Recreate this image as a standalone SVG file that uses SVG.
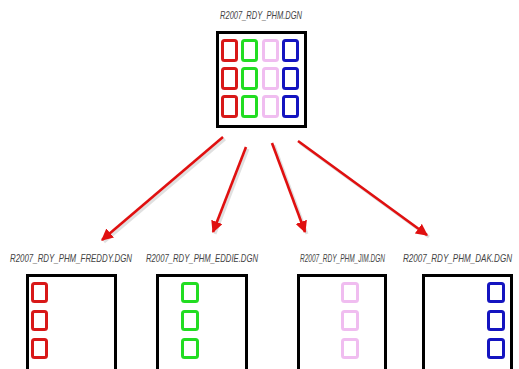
<svg xmlns="http://www.w3.org/2000/svg" width="519" height="369" viewBox="0 0 519 369">
<defs>
<style>
.lbl{font-family:"Liberation Sans",Arial,sans-serif;font-size:8px;font-style:italic;fill:#444;}
.box{fill:#fff;stroke:#000;stroke-width:3;}
.r{fill:none;stroke:#d81818;stroke-width:3;}
.g{fill:none;stroke:#22dd22;stroke-width:3;}
.p{fill:none;stroke:#f0bdf0;stroke-width:3;}
.b{fill:none;stroke:#1414c0;stroke-width:3;}
.arr{stroke:#e01010;stroke-width:2.6;fill:none;marker-end:url(#ah);}
.sh{stroke:#000;stroke-opacity:0.12;stroke-width:3;fill:none;}
</style>
<marker id="ah" viewBox="0 0 10 10" refX="9" refY="5" markerWidth="4.6" markerHeight="4.6" orient="auto" markerUnits="strokeWidth">
<path d="M0,0 L10,5 L0,10 Z" fill="#e01010"/>
</marker>
</defs>
<rect width="519" height="369" fill="#fff"/>
<g id="connectors">
<line class="sh" x1="225" y1="139" x2="104" y2="242"/>
<line class="sh" x1="248" y1="149" x2="215" y2="234"/>
<line class="sh" x1="274" y1="145" x2="307" y2="234"/>
<line class="sh" x1="300" y1="143" x2="429" y2="237"/>
<line class="arr" x1="223" y1="137" x2="102" y2="240"/>
<line class="arr" x1="246" y1="147" x2="213" y2="232"/>
<line class="arr" x1="272" y1="143" x2="305" y2="232"/>
<line class="arr" x1="298" y1="141" x2="427" y2="235"/>
</g>
<g id="main">
<text class="lbl" transform="translate(261,19) scale(1,1.35)" text-anchor="middle" textLength="82" lengthAdjust="spacingAndGlyphs">R2007_RDY_PHM.DGN</text>
<rect class="box" x="217.5" y="32.5" width="88" height="94"/>
<rect class="r" x="222.5" y="40.5" width="14" height="20" rx="2"/>
<rect class="r" x="222.5" y="68.5" width="14" height="20" rx="2"/>
<rect class="r" x="222.5" y="96.5" width="14" height="20" rx="2"/>
<rect class="g" x="242.5" y="40.5" width="14" height="20" rx="2"/>
<rect class="g" x="242.5" y="68.5" width="14" height="20" rx="2"/>
<rect class="g" x="242.5" y="96.5" width="14" height="20" rx="2"/>
<rect class="p" x="263.5" y="40.5" width="14" height="20" rx="2"/>
<rect class="p" x="263.5" y="68.5" width="14" height="20" rx="2"/>
<rect class="p" x="263.5" y="96.5" width="14" height="20" rx="2"/>
<rect class="b" x="283.5" y="40.5" width="14" height="20" rx="2"/>
<rect class="b" x="283.5" y="68.5" width="14" height="20" rx="2"/>
<rect class="b" x="283.5" y="96.5" width="14" height="20" rx="2"/>
</g>
<g id="freddy">
<text class="lbl" transform="translate(10,262) scale(1,1.35)" textLength="122" lengthAdjust="spacingAndGlyphs">R2007_RDY_PHM_FREDDY.DGN</text>
<rect class="box" x="27.5" y="275.5" width="88" height="100"/>
<rect class="r" x="32.5" y="283.5" width="14" height="18" rx="2"/>
<rect class="r" x="32.5" y="311.5" width="14" height="18" rx="2"/>
<rect class="r" x="32.5" y="339.5" width="14" height="18" rx="2"/>
</g>
<g id="eddie">
<text class="lbl" transform="translate(146,262) scale(1,1.35)" textLength="112" lengthAdjust="spacingAndGlyphs">R2007_RDY_PHM_EDDIE.DGN</text>
<rect class="box" x="157.5" y="275.5" width="89" height="100"/>
<rect class="g" x="182.5" y="283.5" width="15" height="18" rx="2"/>
<rect class="g" x="182.5" y="311.5" width="15" height="18" rx="2"/>
<rect class="g" x="182.5" y="339.5" width="15" height="18" rx="2"/>
</g>
<g id="jim">
<text class="lbl" transform="translate(300,262) scale(1,1.35)" textLength="85" lengthAdjust="spacingAndGlyphs">R2007_RDY_PHM_JIM.DGN</text>
<rect class="box" x="298.5" y="275.5" width="87" height="100"/>
<rect class="p" x="342.5" y="283.5" width="15" height="18" rx="2"/>
<rect class="p" x="342.5" y="311.5" width="15" height="18" rx="2"/>
<rect class="p" x="342.5" y="339.5" width="15" height="18" rx="2"/>
</g>
<g id="dak">
<text class="lbl" transform="translate(403,262) scale(1,1.35)" textLength="109" lengthAdjust="spacingAndGlyphs">R2007_RDY_PHM_DAK.DGN</text>
<rect class="box" x="423.5" y="275.5" width="88" height="100"/>
<rect class="b" x="488.5" y="283.5" width="15" height="18" rx="2"/>
<rect class="b" x="488.5" y="311.5" width="15" height="18" rx="2"/>
<rect class="b" x="488.5" y="339.5" width="15" height="18" rx="2"/>
</g>
</svg>
